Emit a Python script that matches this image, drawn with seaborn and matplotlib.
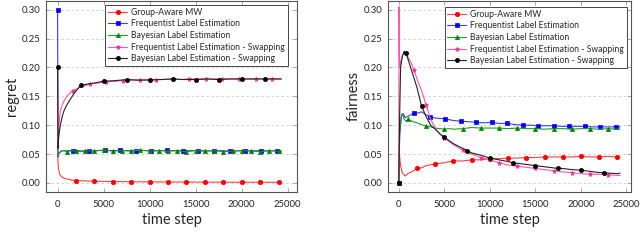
import numpy as np
import pandas as pd
import matplotlib
matplotlib.use("Agg")
import matplotlib.pyplot as plt
import seaborn as sns

# ---------------------------------------------------------------
# data (regret, left panel)
# ---------------------------------------------------------------
reg_red_t = [0, 50, 100, 200, 300, 500, 700, 1000, 1500, 2000, 3000, 4000, 5000, 6000,
             7000, 8000, 10000, 12000, 14000, 16000, 18000, 20000, 22000, 24000]
reg_red_v = [0.06, 0.035, 0.025, 0.017, 0.013, 0.010, 0.008, 0.007, 0.005, 0.004, 0.0035,
             0.003, 0.0027, 0.0024, 0.0022, 0.002, 0.0018, 0.0016, 0.0015, 0.0014, 0.0013,
             0.0012, 0.0012, 0.0011]
reg_red_m = [2000, 4000, 6000, 8000, 10000, 12000, 14000, 16000, 18000, 20000, 22000, 24000]

reg_blue_t = [0, 50, 100, 200, 400, 700, 1000, 1300, 1700, 2200, 2800, 3400, 4200, 5100,
              6000, 6800, 7600, 8500, 9300, 10200, 11000, 11900, 12800, 13600, 14500, 15300,
              16100, 17000, 17900, 18700, 19500, 20400, 21200, 22100, 23000, 23800, 24300]
reg_blue_v = [0.30, 0.045, 0.048, 0.052, 0.055, 0.056, 0.055, 0.056, 0.055, 0.056, 0.055,
              0.0545, 0.056, 0.0565, 0.056, 0.0565, 0.056, 0.0558, 0.0562, 0.0556, 0.056,
              0.0562, 0.0558, 0.0557, 0.056, 0.0558, 0.0556, 0.0555, 0.0558, 0.0552, 0.0556,
              0.0558, 0.0556, 0.0558, 0.0555, 0.0556, 0.0555]
reg_blue_m = [0, 1700, 3400, 5100, 6800, 8500, 10200, 11900, 13600, 15300, 17000, 18700,
              20400, 22100, 23800]

reg_green_t = [0, 50, 100, 200, 400, 700, 1000, 1500, 2000, 2500, 3000, 4000, 5000, 6000,
               7000, 8000, 9000, 10000, 11000, 12000, 13000, 14000, 15000, 16000, 17000,
               18000, 19000, 20000, 21000, 22000, 23000, 24000, 24300]
reg_green_v = [0.05, 0.047, 0.05, 0.053, 0.055, 0.056, 0.054, 0.056, 0.055, 0.054, 0.056,
               0.055, 0.057, 0.055, 0.056, 0.055, 0.057, 0.055, 0.056, 0.055, 0.056, 0.054,
               0.056, 0.055, 0.056, 0.054, 0.055, 0.056, 0.055, 0.054, 0.056, 0.055, 0.055]
reg_green_m = [1000, 2000, 3000, 4000, 5000, 6000, 7000, 8000, 9000, 10000, 11000, 12000,
               13000, 14000, 15000, 16000, 17000, 18000, 19000, 20000, 21000, 22000, 23000, 24000]

reg_pink_t = [0, 50, 100, 200, 300, 500, 700, 1000, 1300, 1700, 2500, 3500, 4400, 5300,
              6200, 7100, 8000, 8900, 9800, 10700, 11600, 12500, 13400, 14300, 15200, 16100,
              17000, 17900, 18800, 19700, 20600, 21500, 22400, 23300, 24300]
reg_pink_v = [0.2, 0.06, 0.09, 0.11, 0.125, 0.135, 0.142, 0.15, 0.155, 0.16, 0.166, 0.171,
              0.173, 0.175, 0.176, 0.177, 0.178, 0.178, 0.179, 0.179, 0.179, 0.18, 0.179,
              0.18, 0.18, 0.18, 0.18, 0.18, 0.18, 0.18, 0.18, 0.18, 0.18, 0.18, 0.18]
reg_pink_m = [1700, 3500, 5300, 7100, 8900, 10700, 12500, 14300, 16100, 17900, 19700,
              21500, 23300]

reg_black_t = [0, 50, 100, 200, 300, 500, 700, 1000, 1300, 1800, 2500, 3200, 4000, 5000,
               6200, 7500, 8700, 10000, 11200, 12500, 13700, 15000, 16200, 17500, 18700,
               20000, 21200, 22500, 23700, 24300]
reg_black_v = [0.2, 0.06, 0.075, 0.09, 0.1, 0.115, 0.125, 0.135, 0.143, 0.155, 0.169,
               0.171, 0.173, 0.176, 0.177, 0.179, 0.178, 0.178, 0.179, 0.18, 0.179, 0.179,
               0.18, 0.179, 0.18, 0.18, 0.18, 0.18, 0.18, 0.18]
reg_black_m = [0, 2500, 5000, 7500, 10000, 12500, 15000, 17500, 20000, 22500]

# ---------------------------------------------------------------
# fairness, right panel
# ---------------------------------------------------------------
fair_red_t = [0, 50, 100, 200, 400, 700, 1000, 1500, 2000, 2500, 3000, 4000, 5000, 6000,
              7000, 8000, 9000, 10000, 11000, 12000, 13000, 14000, 15000, 16000, 17000,
              18000, 19000, 20000, 21000, 22000, 23000, 24000, 24300]
fair_red_v = [0.0, 0.055, 0.045, 0.03, 0.017, 0.012, 0.016, 0.02, 0.025, 0.026, 0.03,
              0.033, 0.035, 0.038, 0.038, 0.040, 0.040, 0.042, 0.042, 0.043, 0.043, 0.044,
              0.044, 0.045, 0.045, 0.045, 0.045, 0.046, 0.045, 0.045, 0.046, 0.045, 0.045]
fair_red_m = [2000, 4000, 6000, 8000, 10000, 12000, 14000, 16000, 18000, 20000, 22000, 24000]

fair_blue_t = [0, 100, 200, 300, 500, 700, 1000, 1300, 1700, 2100, 2500, 3000, 3400, 4200,
               5100, 6000, 6800, 7600, 8500, 9300, 10200, 11000, 11900, 12800, 13600, 14500,
               15300, 16100, 17000, 17900, 18700, 19500, 20400, 21200, 22100, 23000, 23800,
               24300]
fair_blue_v = [0.0, 0.08, 0.1, 0.115, 0.12, 0.113, 0.115, 0.118, 0.121, 0.121, 0.123, 0.118,
               0.114, 0.112, 0.111, 0.108, 0.107, 0.106, 0.105, 0.104, 0.105, 0.103, 0.103,
               0.101, 0.100, 0.100, 0.099, 0.099, 0.099, 0.098, 0.098, 0.098, 0.098, 0.097,
               0.097, 0.097, 0.097, 0.097]
fair_blue_m = [0, 1700, 3400, 5100, 6800, 8500, 10200, 11900, 13600, 15300, 17000, 18700,
               20400, 22100, 23800]

fair_green_t = [0, 100, 200, 300, 400, 600, 800, 1000, 1300, 1600, 2000, 2500, 3000, 3500,
                4000, 4500, 5000, 5500, 6000, 7000, 8000, 9000, 10000, 11000, 12000, 13000,
                14000, 15000, 16000, 17000, 18000, 19000, 20000, 21000, 22000, 23000, 24000,
                24300]
fair_green_v = [0.0, 0.09, 0.105, 0.118, 0.12, 0.11, 0.107, 0.11, 0.108, 0.106, 0.104,
                0.101, 0.098, 0.097, 0.095, 0.094, 0.093, 0.094, 0.093, 0.094, 0.096, 0.095,
                0.095, 0.095, 0.094, 0.095, 0.094, 0.094, 0.093, 0.094, 0.094, 0.093, 0.094,
                0.094, 0.093, 0.094, 0.093, 0.093]
fair_green_m = [1000, 3000, 5000, 7000, 9000, 11000, 13000, 15000, 17000, 19000, 21000, 23000]

fair_pink_t = [0, 30, 60, 100, 200, 400, 600, 800, 1000, 1300, 1700, 2000, 2500, 3000,
               3500, 4000, 4500, 5000, 6000, 7000, 8000, 9000, 10000, 11000, 12000, 13000,
               14000, 15000, 16000, 17000, 18000, 19000, 20000, 21000, 22000, 23000, 24000,
               24300]
fair_pink_v = [0.0, 0.305, 0.22, 0.2, 0.21, 0.22, 0.226, 0.223, 0.218, 0.21, 0.195, 0.18,
               0.16, 0.135, 0.11, 0.095, 0.085, 0.078, 0.066, 0.057, 0.05, 0.044, 0.04,
               0.035, 0.031, 0.029, 0.027, 0.025, 0.023, 0.021, 0.019, 0.018, 0.016, 0.015,
               0.015, 0.014, 0.013, 0.013]
fair_pink_m = [1700, 3000, 5000, 7000, 9000, 11000, 13000, 15000, 17000, 19000, 21000, 23000]

fair_black_t = [0, 100, 200, 300, 400, 600, 800, 1000, 1300, 1600, 2000, 2500, 3000, 3500,
                4000, 4500, 5000, 6000, 7000, 7500, 8000, 9000, 10000, 11000, 12000, 12500,
                13000, 14000, 15000, 16000, 17000, 17500, 18000, 19000, 20000, 21000, 22000,
                22500, 23000, 24000, 24300]
fair_black_v = [0.0, 0.12, 0.2, 0.21, 0.22, 0.228, 0.225, 0.215, 0.2, 0.185, 0.165, 0.133,
                0.115, 0.1, 0.093, 0.085, 0.079, 0.068, 0.06, 0.056, 0.052, 0.048, 0.043,
                0.04, 0.037, 0.035, 0.034, 0.032, 0.03, 0.028, 0.026, 0.025, 0.025, 0.023,
                0.022, 0.02, 0.018, 0.018, 0.017, 0.016, 0.017]
fair_black_m = [0, 800, 2500, 5000, 7500, 10000, 12500, 15000, 17500, 20000, 22500]

labels = ["Group-Aware MW", "Frequentist Label Estimation", "Bayesian Label Estimation",
          "Frequentist Label Estimation - Swapping", "Bayesian Label Estimation - Swapping"]
colors = ["#ff0000", "#0000ff", "#008000", "#ff2d9a", "#000000"]
line_colors = ["#ff4040", "#3a3aff", "#249a24", "#ff55b0", "#222222"]
markers = ["o", "s", "^", "*", "o"]
msizes = [3.2, 3.2, 3.0, 3.6, 3.0]

regret = [(reg_red_t, reg_red_v, reg_red_m), (reg_blue_t, reg_blue_v, reg_blue_m),
          (reg_green_t, reg_green_v, reg_green_m), (reg_pink_t, reg_pink_v, reg_pink_m),
          (reg_black_t, reg_black_v, reg_black_m)]
fairness = [(fair_red_t, fair_red_v, fair_red_m), (fair_blue_t, fair_blue_v, fair_blue_m),
            (fair_green_t, fair_green_v, fair_green_m), (fair_pink_t, fair_pink_v, fair_pink_m),
            (fair_black_t, fair_black_v, fair_black_m)]

sns.set_theme(style="white")
plt.rcParams["font.family"] = ["Lato", "DejaVu Sans"]

fig, axes = plt.subplots(1, 2, figsize=(6.4, 2.46), dpi=100)
# place the two panels like the reference
axes[0].set_position([0.072, 0.22, 0.392, 0.776])
axes[1].set_position([0.606, 0.22, 0.380, 0.776])

for ax, series, ylab, xlim in [(axes[0], regret, "regret", (-1250, 26000)),
                               (axes[1], fairness, "fairness", (-1200, 25500))]:
    for (t, v, m), lab, c, lc, mk, ms in zip(series, labels, colors, line_colors, markers, msizes):
        df = pd.DataFrame({"t": t, "v": v})
        idx = [t.index(x) for x in m]
        sns.lineplot(data=df, x="t", y="v", ax=ax, label=lab, color=lc, lw=0.8,
                     marker=mk, markersize=ms, markerfacecolor=c, markeredgecolor=c,
                     markeredgewidth=0.5, markevery=idx, sort=False)
    ax.set_xlim(*xlim)
    ax.set_ylim(-0.0155, 0.315)
    ax.set_xticks([0, 5000, 10000, 15000, 20000, 25000])
    ax.set_yticks([0.0, 0.05, 0.10, 0.15, 0.20, 0.25, 0.30])
    ax.yaxis.set_major_formatter(matplotlib.ticker.FormatStrFormatter("%.2f"))
    ax.grid(axis="y", color="#cccccc", linestyle=(0, (3, 3)), lw=0.6)
    ax.grid(axis="x", visible=False)
    ax.tick_params(direction="in", length=3, width=0.6, color="#999999",
                   labelsize=6.8, labelcolor="#222222", pad=4,
                   top=True, right=True, left=True, bottom=True)
    ax.tick_params(axis="x", pad=6)
    for sp in ax.spines.values():
        sp.set_color("#555555")
        sp.set_linewidth(0.8)
    ax.set_xlabel("time step", fontsize=10.5, labelpad=3)
    ax.set_ylabel(ylab, fontsize=10.5, labelpad=2)
    leg = ax.legend(loc="upper right", fontsize=6.2, frameon=True, fancybox=False,
                    framealpha=1, edgecolor="#444444", borderpad=0.3, labelspacing=0.3,
                    handlelength=2.2, handletextpad=0.5, borderaxespad=0.5)
    leg.get_frame().set_linewidth(0.7)

axes[0].get_legend().set_bbox_to_anchor((0.98, 1.0))
axes[1].get_legend().set_bbox_to_anchor((1.0, 0.99))

fig.savefig("out.png", dpi=100)
